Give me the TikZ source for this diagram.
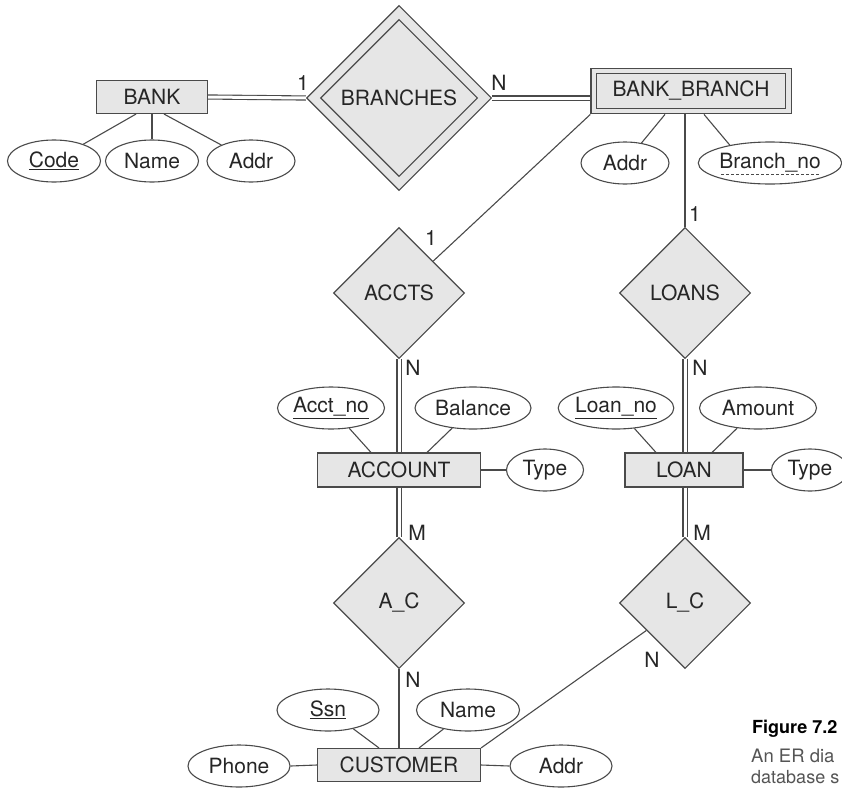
\documentclass[tikz,border=0pt]{standalone}
\usepackage{fontspec}
\setmainfont{TeX Gyre Heros}
\usetikzlibrary{shapes.geometric}
\definecolor{erline}{HTML}{4A4A4A}
\definecolor{erfill}{HTML}{E6E6E6}
\definecolor{ertext}{HTML}{262626}
\definecolor{captext}{HTML}{555555}
\tikzset{
  entity/.style={draw=erline, fill=erfill, line width=1.1pt, minimum height=33pt,
                 inner sep=0pt, text=ertext},
  rel/.style={diamond, aspect=1, draw=erline, fill=erfill, line width=1.1pt,
              minimum size=131pt, inner sep=0pt, text=ertext},
  attr/.style={ellipse, draw=erline, fill=white, line width=1.1pt,
               minimum height=42pt, inner sep=0pt, text=ertext},
  link/.style={draw=erline, line width=1.1pt},
  totalline/.style={draw=erline, line width=1.1pt, double=white, double distance=3pt},
  card/.style={text=ertext, inner sep=0pt},
  caption/.style={anchor=base west, inner sep=0pt}
}
\begin{document}
\begin{tikzpicture}[x=1pt, y=-1pt, font=\fontsize{21}{25}\selectfont]
\useasboundingbox (0,0) rectangle (842,787);
\fill[white] (0,0) rectangle (842,787);
\clip (0,0) rectangle (842,787);
%entities
\node[entity, minimum width=111pt] (bank) at (152,97) {BANK};
\node[entity, double=erfill, double distance=4.5pt, minimum width=194.5pt,
      minimum height=40pt, outer sep=3.4pt] (bb) at (691,91) {BANK\_BRANCH};
\node[entity, minimum width=163pt, minimum height=34pt] (account) at (399,470) {ACCOUNT};
\node[entity, minimum width=118pt, minimum height=34pt] (loan) at (684,470) {LOAN};
\node[entity, minimum width=163pt] (customer) at (399,765) {CUSTOMER};
%identifying relationship
\node[rel, minimum size=185pt] (branches) at (399,98) {};
\node[rel, minimum size=157pt] (branchesin) at (399,98) {BRANCHES};
%relationships
\node[rel] (accts) at (399,293) {ACCTS};
\node[rel] (loans) at (685,293) {LOANS};
\node[rel] (ac) at (399,603) {A\_C};
\node[rel] (lc) at (685,603) {L\_C};
%attributes
\foreach \name/\x/\y/\w/\txt in {code/54/161/93/\underline{Code},
    bname/152/161/93/Name, baddr/251/161/88/Addr,
    braddr/625/163/88/Addr, bno/770/163/140/Branch\_no,
    acctno/331/408/104/\underline{Acct\_no}, balance/473/408/116/Balance,
    atype/545/470/77/Type,
    loanno/616/408/103/\underline{Loan\_no}, amount/758/408/117/Amount,
    ltype/810/470/77/Type,
    ssn/328/710/102/\underline{Ssn}, cname/468/710/103/Name,
    phone/239/766/102/Phone, caddr/561/766/102/Addr}
{
  \node[attr, minimum width=\w pt] (\name) at (\x,\y) {\txt};
}
% partial key of the weak entity
\draw[erline, line width=0.9pt, dash pattern=on 3pt off 2pt]
  ([xshift=-49pt, yshift=-11pt]bno.center) -- ([xshift=49pt, yshift=-11pt]bno.center);
%attribute links
\draw[link] ([xshift=-16pt]bank.south) -- (code);
\draw[link] (bank.south) -- (bname);
\draw[link] ([xshift=12pt]bank.south) -- (baddr);
\draw[link] ([xshift=-26pt]bb.south) -- (braddr);
\draw[link] ([xshift=13pt]bb.south) -- (bno.156);
\draw[link] ([xshift=-28pt]account.north) -- (acctno);
\draw[link] ([xshift=28pt]account.north) -- (balance);
\draw[link] (account.east) -- (atype.west);
\draw[link] ([xshift=-28pt]loan.north) -- (loanno);
\draw[link] ([xshift=28pt]loan.north) -- (amount);
\draw[link] (loan.east) -- (ltype.west);
\draw[link] ([xshift=-20pt]customer.north) -- (ssn);
\draw[link] ([xshift=20pt]customer.north) -- (cname);
\draw[link] (phone.east) -- (customer.west);
\draw[link] (customer.east) -- (caddr.west);
%relationship links
\draw[totalline] (bank.east) -- (branches.west);
\draw[totalline] (branches.east) -- (branches.east -| bb.west);
\draw[link] (bb.south west) -- (accts);
\draw[link] (bb.south -| loans.north) -- (loans.north);
\draw[totalline] (accts.south) -- (account.north);
\draw[totalline] (loans.south) -- (loans.south |- loan.north);
\draw[totalline] (account.south) -- (ac.north);
\draw[totalline] (loan.south -| lc.north) -- (lc.north);
\draw[link] (ac.south) -- (customer.north);
\draw[link] (customer.north east) -- (lc);
%cardinalities
\foreach \name/\x/\y/\txt in {c1/303/83/1, c2/499/83/N, c3/431/238/1, c4/695/214/1,
    c5/413/368/N, c6/700/368/N, c7/417/533/M, c8/702/533/M, c9/413/680/N, c10/652/660/N}
{
  \node[card] (\name) at (\x,\y) {\txt};
}
%caption (cut by the page edge)
\node[caption, font=\fontsize{18}{21}\selectfont\bfseries] (figno) at (752,733) {Figure 7.2};
\node[caption, text=captext, font=\fontsize{18.5}{22}\selectfont] (capa) at (751,762) {An ER dia};
\node[caption, text=captext, font=\fontsize{18}{22}\selectfont] (capb) at (751,783) {database s};
\end{tikzpicture}
\end{document}
